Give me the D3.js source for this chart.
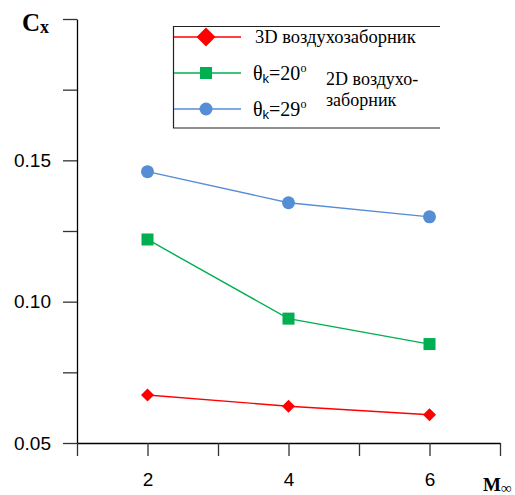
<!DOCTYPE html>
<html>
<head>
<meta charset="utf-8">
<script src="https://cdn.jsdelivr.net/npm/d3@7"></script>
<style>
  body { margin: 0; background: #fff; }
  svg { display: block; }
</style>
</head>
<body>
<svg id="svg" width="515" height="495"></svg>
<script>
// Mach numbers and Cx values
const machs = [2, 4, 6]
const cx3d = [0.067, 0.063, 0.060]
const cx20 = [0.122, 0.094, 0.085]
const cx29 = [0.146, 0.135, 0.130]
const yTicks = [0.05, 0.10, 0.15]
const xTicks = [2, 4, 6]

const svg = d3.select("#svg")
const sans = "'Liberation Sans', Arial, sans-serif"
const serif = "'Liberation Serif', 'Times New Roman', serif"

const x = d3.scaleLinear().domain([1, 7]).range([77, 500])
const y = d3.scaleLinear().domain([0.05, 0.20]).range([443, 19])

// y axis: ticks every 0.025, labels only on the main ones
const yAxis = d3.axisLeft(y)
    .tickValues(d3.range(0.05, 0.2001, 0.025))
    .tickSize(14)
    .tickSizeOuter(0)
    .tickFormat(d => yTicks.some(t => Math.abs(t - d) < 1e-6) ? d3.format(".2f")(d) : "")

const gy = svg.append("g").attr("transform", "translate(77,0)").call(yAxis)
gy.select(".domain").attr("stroke", "#000").attr("stroke-width", 1.3)
gy.selectAll(".tick line").attr("stroke", "#333").attr("stroke-width", 1.3)
gy.selectAll(".tick text")
    .attr("x", -26)
    .style("font-family", sans)
    .style("font-size", "19px")
    .attr("fill", "#000")

// x axis: ticks every 1, labels on the even ones
const xAxis = d3.axisBottom(x)
    .tickValues(d3.range(1, 8))
    .tickSize(13)
    .tickSizeOuter(0)
    .tickFormat(d => xTicks.includes(d) ? d : "")

const gx = svg.append("g").attr("transform", "translate(0,443)").call(xAxis)
gx.select(".domain").attr("stroke", "#000").attr("stroke-width", 1.3)
gx.selectAll(".tick line").attr("stroke", "#333").attr("stroke-width", 1.3)
gx.selectAll(".tick text")
    .attr("y", 30)
    .style("font-family", sans)
    .style("font-size", "19px")
    .attr("fill", "#000")

const series = [
    { name: "3d", vals: cx3d, color: "#ff0000", marker: "diamond" },
    { name: "20", vals: cx20, color: "#00b050", marker: "square" },
    { name: "29", vals: cx29, color: "#558ed5", marker: "circle" }
]

const line = d3.line().x((d, i) => x(machs[i])).y(d => y(d))

function drawMarker(g, type, color, big) {
    if (type === "diamond") {
        const r = big ? 9.5 : 6.5
        g.append("path").attr("d", `M0,${-r}L${r},0L0,${r}L${-r},0Z`).attr("fill", color)
    } else if (type === "square") {
        g.append("rect").attr("x", -6).attr("y", -6).attr("width", 12).attr("height", 12).attr("fill", color)
    } else {
        g.append("circle").attr("r", 6.5).attr("fill", color)
    }
}

series.forEach(s => {
    svg.append("path")
        .attr("d", line(s.vals))
        .attr("fill", "none")
        .attr("stroke", s.color)
        .attr("stroke-width", 1.4)
    s.vals.forEach((v, i) => {
        const g = svg.append("g").attr("transform", `translate(${x(machs[i])},${y(v)})`)
        drawMarker(g, s.marker, s.color, false)
    })
})

// legend
const lg = svg.append("g")
lg.append("path")
    .attr("d", "M440,26.5 H173.5 V128 H440")
    .attr("fill", "none")
    .attr("stroke", "#222")
    .attr("stroke-width", 1.2)

const rowY = [37, 73, 109]
series.forEach((s, i) => {
    lg.append("line").attr("x1", 174).attr("x2", 241).attr("y1", rowY[i]).attr("y2", rowY[i])
        .attr("stroke", s.color).attr("stroke-width", 1.4)
    const g = lg.append("g").attr("transform", `translate(206,${rowY[i]})`)
    drawMarker(g, s.marker, s.color, true)
})

lg.append("text").attr("x", 255).attr("y", 43)
    .style("font-family", serif).style("font-size", "18.5px")
    .text("3D воздухозаборник")

function thetaLabel(yy, deg) {
    const t = lg.append("text").attr("x", 253).attr("y", yy)
        .style("font-family", serif).style("font-size", "20px")
    t.append("tspan").text("θ")
    t.append("tspan").style("font-family", sans).style("font-size", "13px").attr("dy", 3).text("k")
    t.append("tspan").attr("dy", -3).text("=" + deg)
    t.append("tspan").style("font-size", "12px").attr("dy", -8).text("o")
}
thetaLabel(80, 20)
thetaLabel(116, 29)

lg.append("text").attr("x", 326).attr("y", 85)
    .style("font-family", serif).style("font-size", "18px")
    .text("2D воздухо-")
lg.append("text").attr("x", 326).attr("y", 106)
    .style("font-family", serif).style("font-size", "18px")
    .text("заборник")

// axis titles
const cxT = svg.append("text").attr("x", 22).attr("y", 31)
    .style("font-family", serif).style("font-weight", "bold").style("font-size", "25px")
cxT.append("tspan").text("C")
cxT.append("tspan").style("font-size", "18px").attr("dy", 2).text("x")

const mT = svg.append("text").attr("x", 483).attr("y", 491)
    .style("font-family", serif).style("font-weight", "bold").style("font-size", "19px")
mT.append("tspan").text("M")
mT.append("tspan").style("font-size", "15px").attr("dy", 2).text("∞")
</script>
</body>
</html>
